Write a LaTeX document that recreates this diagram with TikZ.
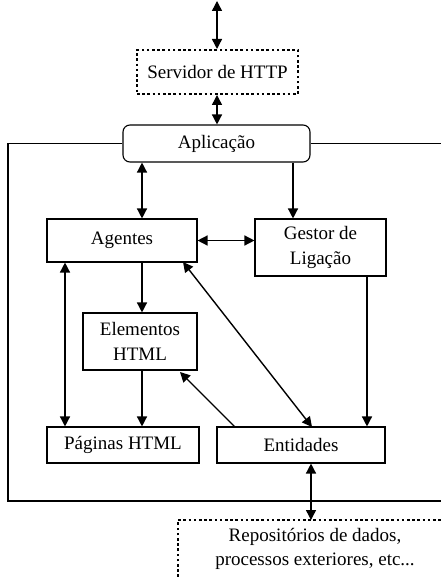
\documentclass[tikz,border=0pt]{standalone}
\usepackage{fontspec}
\setmainfont{Liberation Serif}
\usetikzlibrary{arrows.meta}
\begin{document}
\begin{tikzpicture}[x=1pt,y=-1pt,
  lbl/.style={inner sep=0pt, align=center, font=\fontsize{19}{24.5}\selectfont},
  box/.style={lbl, draw, line width=1.1pt},
  dots/.style={line width=2pt, dash pattern=on 2.6pt off 2.6pt},
  link/.style={line width=1.4pt, -{Triangle[width=10pt,length=10pt]}},
  blink/.style={line width=1.4pt, {Triangle[width=10pt,length=10pt]}-{Triangle[width=10pt,length=10pt]}},
  frame/.style={line width=1.3pt}]
\useasboundingbox (0,0) rectangle (441,577);

% nodes
\node[lbl, draw, dots, minimum width=161pt, minimum height=44pt] (srv) at (217.5,72) {Servidor de HTTP};
\node[box, rounded corners=7pt, minimum width=187pt, minimum height=37pt] (app) at (216.5,143.5) {Aplicação};
\node[box, minimum width=150pt, minimum height=43pt] (ag) at (122,240.5) {Agentes};
\node[box, minimum width=131pt, minimum height=57pt] (ges) at (320.5,247.5) {Gestor de\\Ligação};
\node[box, minimum width=114pt, minimum height=57pt] (el) at (140,341.5) {Elementos\\HTML};
\node[box, minimum width=152pt, minimum height=36pt] (pag) at (123,445) {Páginas HTML};
\node[box, minimum width=168pt, minimum height=36pt] (ent) at (301,445) {Entidades};
\node[lbl] (rep) at (315,549) {Repositórios de dados,\\processos exteriores, etc...};

% helper coordinates
\coordinate (top) at (217,1);
\coordinate (xa) at (142,0);
\coordinate (xl) at (65,0);
\coordinate (xg) at (293,0);
\coordinate (xe) at (367,0);
\coordinate (repc) at (311,520);
\coordinate (agr) at (183,262);
\coordinate (entt) at (312,427);
\coordinate (ents) at (235,427);
\coordinate (elb) at (180,372);

% frame
\draw[frame] (app.west) -| (8,501) -- (441,501);
\draw[frame] (app.east) -- (441,143.5);
\draw[dots] (178,577) -- (178,520) -- (441,520);

% connectors
\draw[blink] (top) -- (srv.north -| top);
\draw[blink] (srv.south -| top) -- (app.north -| top);
\draw[blink] (app.south -| xa) -- (ag.north -| xa);
\draw[link] (app.south -| xg) -- (ges.north -| xg);
\draw[blink] (ag.east) -- (ges.west |- ag.east);
\draw[link] (ag.south -| xa) -- (el.north -| xa);
\draw[blink] (ag.south -| xl) -- (pag.north -| xl);
\draw[link] (el.south -| xa) -- (pag.north -| xa);
\draw[link] (ents) -- (elb);
\draw[blink] (agr) -- (entt);
\draw[link] (ges.south -| xe) -- (ent.north -| xe);
\draw[blink] (ent.south -| repc) -- (repc);
\end{tikzpicture}
\end{document}
